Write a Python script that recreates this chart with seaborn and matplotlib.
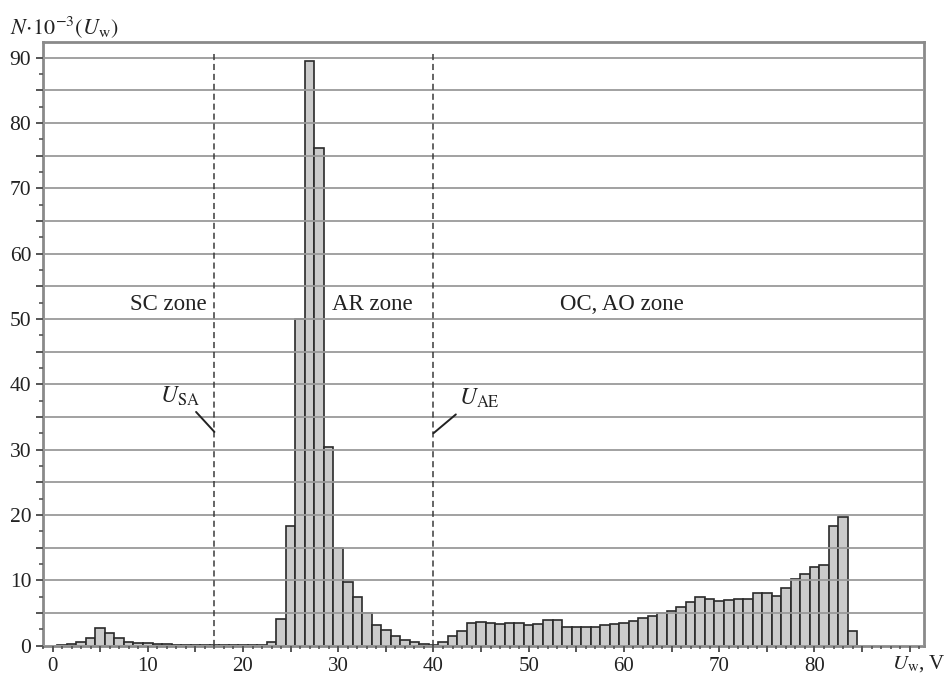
import numpy as np
import matplotlib
matplotlib.use('Agg')
import matplotlib.pyplot as plt
from matplotlib.ticker import MultipleLocator, FuncFormatter
import seaborn as sns

# histogram of weld voltage, bins 1 V wide centred on integers
voltage = list(range(0, 85))
counts = [
    0.0, 0.05, 0.2, 0.6, 1.2, 2.7, 1.9, 1.1, 0.6, 0.45,
    0.35, 0.3, 0.25, 0.15, 0.1, 0.05, 0.05, 0.05, 0.05, 0.05,
    0.05, 0.1, 0.15, 0.55, 4.0, 18.3, 50.0, 89.5, 76.1, 30.4,
    15.0, 9.7, 7.4, 5.0, 3.1, 2.4, 1.5, 0.9, 0.5, 0.2,
    0.15, 0.5, 1.4, 2.25, 3.45, 3.65, 3.45, 3.3, 3.45, 3.45,
    3.1, 3.25, 3.85, 3.85, 2.8, 2.8, 2.9, 2.9, 3.1, 3.25,
    3.5, 3.8, 4.15, 4.5, 4.95, 5.35, 5.85, 6.7, 7.5, 7.15,
    6.85, 7.0, 7.05, 7.05, 8.1, 8.1, 7.65, 8.85, 10.2, 10.9,
    12.0, 12.4, 18.3, 19.6, 2.2,
]

zone_bounds = [17, 40]
zone_names = ['SC zone', 'AR zone', 'OC, AO zone']
zone_label_x = [12.2, 33.6, 59.8]
bound_names = [r'$U_{\mathrm{SA}}$', r'$U_{\mathrm{AE}}$']

sns.set_theme(style='white')
plt.rcParams['font.family'] = ['Liberation Serif', 'DejaVu Serif']
plt.rcParams['mathtext.fontset'] = 'stix'

fig = plt.figure(figsize=(9.51, 6.75), dpi=100)
ax = fig.add_axes([0.0452, 0.0437, 0.9264, 0.8941])

sns.histplot(x=voltage, weights=counts, discrete=True, shrink=1,
             color='#cbcbcb', edgecolor='#2a2a2a', linewidth=1.2,
             alpha=1, ax=ax)

ax.set_xlim(-1.0, 91.5)
ax.set_ylim(0, 92.4)

# zone boundaries
ax.vlines(zone_bounds, 0, 91, colors='#3a3a3a', linestyles=(0, (4, 2.5)),
          linewidth=1.1, zorder=3)

for name, xpos in zip(zone_names, zone_label_x):
    ax.text(xpos, 52.2, name, ha='center', va='center', fontsize=16.5,
            color='#222222')

ax.annotate(bound_names[0], xy=(zone_bounds[0], 32.7), xytext=(13.4, 38.2),
            ha='center', va='center', fontsize=17, color='#222222',
            arrowprops=dict(arrowstyle='-', color='#222222', lw=1.4,
                            relpos=(0.8, 0.0), shrinkA=1, shrinkB=0))
ax.annotate(bound_names[1], xy=(zone_bounds[1], 32.5), xytext=(44.8, 37.8),
            ha='center', va='center', fontsize=17, color='#222222',
            arrowprops=dict(arrowstyle='-', color='#222222', lw=1.4,
                            relpos=(0.05, 0.0), shrinkA=1, shrinkB=0))

# ticks: marks every 5 (and minor ones), numbers every 10
def x_labels(v, pos):
    return f'{v:.0f}' if abs(v % 10) < 1e-6 and v < 85 else ''

def y_labels(v, pos):
    return f'{v:.0f}' if abs(v % 10) < 1e-6 else ''

ax.xaxis.set_major_locator(MultipleLocator(5))
ax.xaxis.set_minor_locator(MultipleLocator(1))
ax.xaxis.set_major_formatter(FuncFormatter(x_labels))
ax.yaxis.set_major_locator(MultipleLocator(5))
ax.yaxis.set_minor_locator(MultipleLocator(2.5))
ax.yaxis.set_major_formatter(FuncFormatter(y_labels))

ax.tick_params(axis='x', which='major', direction='out', length=4, width=1.4,
               color='#555555', pad=4, labelsize=15, bottom=True)
ax.tick_params(axis='x', which='minor', direction='out', length=2, width=1.2,
               color='#555555', bottom=True)
ax.tick_params(axis='y', which='major', direction='out', length=5, width=1.4,
               color='#555555', pad=3.5, labelsize=15.5, left=True)
ax.tick_params(axis='y', which='minor', direction='out', length=3, width=1.2,
               color='#555555', left=True)
for lab in ax.get_xticklabels() + ax.get_yticklabels():
    lab.set_color('#222222')

ax.set_axisbelow(False)
ax.yaxis.grid(True, which='major', color='#9a9a9a', linewidth=1.3)
ax.xaxis.grid(False)

for side in ['left', 'bottom', 'top', 'right']:
    ax.spines[side].set_visible(True)
    ax.spines[side].set_color('#8a8a8a')
    ax.spines[side].set_linewidth(2)

ax.set_xlabel('')
ax.set_ylabel('')

fig.text(10 / 951, 1 - 27 / 675, r'$N\!\cdot\!10^{-3}(U_{\mathrm{w}})$',
         ha='left', va='center', fontsize=16, color='#222222')
fig.text(946 / 951, 1 - 664 / 675, r'$U_{\mathrm{w}}$, V',
         ha='right', va='center', fontsize=15, color='#222222')

fig.savefig('out.png', dpi=100)
